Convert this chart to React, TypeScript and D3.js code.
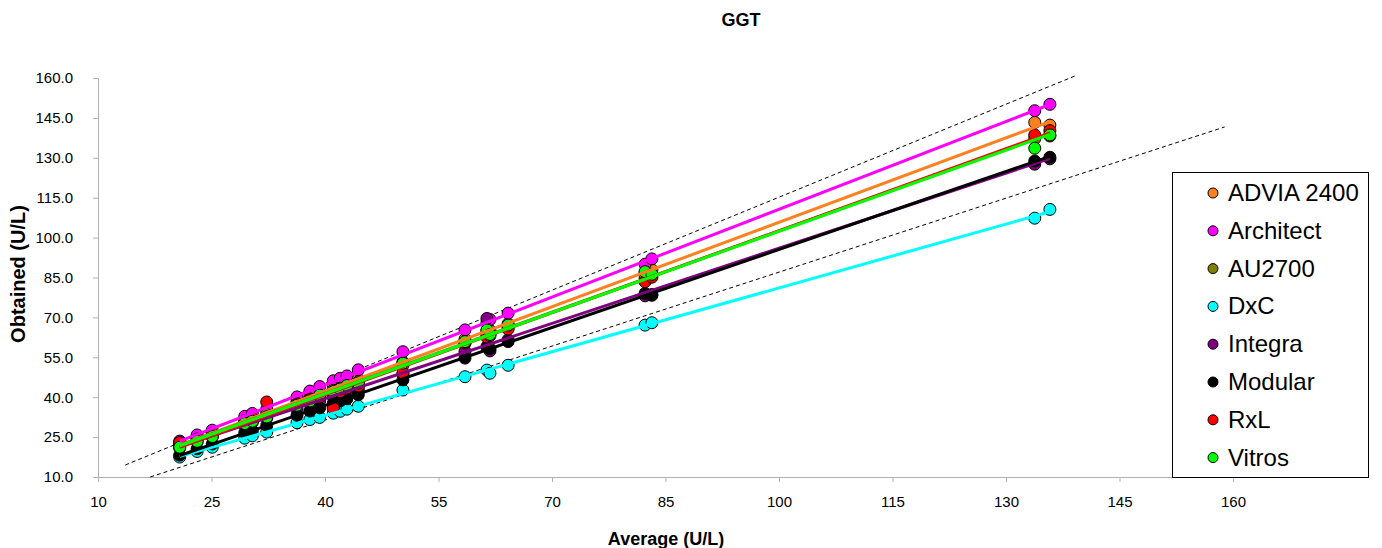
import { useEffect, useRef } from "react";
import * as d3 from "d3";

// Average of all analysers for each sample (U/L)
const averages = [20.8, 23.1, 25.1, 29.4, 30.4, 32.3, 36.3, 38.0, 39.3, 41.1, 42.0, 42.9, 44.4, 50.3, 58.5, 61.4, 61.8, 64.2, 82.3, 83.2, 133.8, 135.8];

// Obtained values per analyser, same order as averages
const advia = [22.3, 24.6, 26.7, 31.2, 32.3, 34.0, 38.4, 40.2, 41.7, 43.6, 44.4, 45.3, 46.8, 53.2, 61.8, 64.7, 65.1, 67.6, 86.8, 87.9, 143.3, 142.3];
const architect = [23.5, 25.8, 27.6, 32.8, 33.9, 35.5, 40.1, 42.3, 44.0, 46.2, 47.1, 48.0, 50.3, 57.1, 65.3, 68.0, 69.2, 71.6, 90.0, 92.0, 147.7, 150.1];
const au2700 = [22.0, 24.3, 26.3, 30.6, 31.7, 33.5, 37.6, 39.4, 40.7, 42.6, 43.4, 44.2, 45.8, 52.0, 60.3, 63.3, 63.9, 66.3, 84.8, 85.7, 137.2, 138.2];
const dxc = [17.5, 19.6, 21.2, 24.6, 25.5, 26.9, 30.4, 31.6, 32.4, 34.0, 34.7, 35.5, 36.6, 42.7, 47.7, 50.2, 49.0, 52.0, 67.1, 68.0, 107.3, 110.6];
const integra = [20.9, 23.3, 25.1, 29.2, 30.6, 32.1, 35.7, 37.6, 38.6, 40.1, 41.2, 42.1, 43.1, 48.6, 57.2, 69.6, 57.4, 61.6, 78.1, 78.6, 127.6, 129.6];
const modular = [18.2, 20.6, 22.4, 26.6, 27.4, 29.3, 33.2, 34.8, 36.0, 37.7, 38.6, 39.4, 40.9, 46.5, 54.7, 59.0, 58.2, 60.9, 79.0, 78.3, 128.8, 130.2];
const rxl = [23.0, 24.1, 25.6, 31.1, 32.0, 38.2, 37.5, 39.1, 40.1, 35.9, 42.1, 43.4, 44.2, 49.1, 60.4, 62.6, 63.1, 65.6, 83.4, 85.1, 138.6, 140.2];
const vitros = [21.2, 23.4, 25.2, 30.1, 31.0, 32.6, 37.0, 38.6, 40.8, 42.1, 43.1, 44.4, 45.3, 52.8, 60.9, 65.3, 63.6, 67.1, 87.2, 86.2, 133.6, 138.6];

const names = ["ADVIA 2400", "Architect", "AU2700", "DxC", "Integra", "Modular", "RxL", "Vitros"];
const values = [advia, architect, au2700, dxc, integra, modular, rxl, vitros];
const colors = ["#ff8020", "#ff00ff", "#808000", "#00ffff", "#800080", "#000000", "#ff0000", "#00ff00"];

// allowable-error limits (dashed), endpoints in data units
const upperLimit: [number, number][] = [[13.6, 14.5], [139.4, 161.1]];
const lowerLimit: [number, number][] = [[16.9, 10.0], [158.9, 141.6]];

const xTicks = [10, 25, 40, 55, 70, 85, 100, 115, 130, 145, 160];
const yTicks = [10, 25, 40, 55, 70, 85, 100, 115, 130, 145, 160];

const FONT = "'Liberation Sans', Arial, sans-serif";

// least squares fit for the trend lines
function fit(xs: number[], ys: number[]) {
    const mx = d3.mean(xs)!;
    const my = d3.mean(ys)!;
    let num = 0, den = 0;
    xs.forEach((x, i) => {
        num += (x - mx) * (ys[i] - my);
        den += (x - mx) * (x - mx);
    });
    const b = num / den;
    return { b, a: my - b * mx };
}

export default function App() {
    const svgRef = useRef<SVGSVGElement | null>(null);
    const width = 1382;
    const height = 548;

    useEffect(() => {
        const m = { left: 98, right: 149, top: 78, bottom: 71 };
        const x = d3.scaleLinear().domain([10, 160]).range([m.left, width - m.right]);
        const y = d3.scaleLinear().domain([10, 160]).range([height - m.bottom, m.top]);

        const svg = d3.select(svgRef.current!);
        svg.selectAll("*").remove();

        // title
        svg.append("text")
            .attr("x", 741).attr("y", 26)
            .attr("text-anchor", "middle")
            .style("font", `bold 18px ${FONT}`)
            .text("GGT");

        // axes
        const axisColor = "#b0b0b0";
        const yAxis = svg.append("g").attr("transform", `translate(${m.left},0)`)
            .call(d3.axisLeft(y).tickValues(yTicks).tickSize(5).tickPadding(20).tickFormat((d) => d3.format(".1f")(d as number)));
        const xAxis = svg.append("g").attr("transform", `translate(0,${height - m.bottom})`)
            .call(d3.axisBottom(x).tickValues(xTicks).tickSize(5).tickPadding(14).tickFormat((d) => String(d)));
        [xAxis, yAxis].forEach((a) => {
            a.select(".domain").attr("stroke", axisColor);
            a.selectAll(".tick line").attr("stroke", axisColor);
            a.selectAll(".tick text").style("font", `15px ${FONT}`).attr("fill", "#000");
        });

        svg.append("text")
            .attr("x", 666).attr("y", 545)
            .attr("text-anchor", "middle")
            .style("font", `bold 18px ${FONT}`)
            .text("Average (U/L)");
        svg.append("text")
            .attr("transform", `translate(25,274) rotate(-90)`)
            .attr("text-anchor", "middle")
            .style("font", `bold 20px ${FONT}`)
            .text("Obtained (U/L)");

        // dashed limits
        const line = d3.line<[number, number]>().x((d) => x(d[0])).y((d) => y(d[1]));
        [upperLimit, lowerLimit].forEach((l) => {
            svg.append("path")
                .attr("d", line(l)!)
                .attr("fill", "none")
                .attr("stroke", "#000")
                .attr("stroke-width", 1)
                .attr("stroke-dasharray", "4,3");
        });

        // points
        values.forEach((vals, s) => {
            svg.append("g").selectAll("circle")
                .data(vals)
                .enter()
                .append("circle")
                .attr("cx", (_, i) => x(averages[i]))
                .attr("cy", (d) => y(d))
                .attr("r", 6)
                .attr("fill", colors[s])
                .attr("stroke", "#000")
                .attr("stroke-width", 1);
        });

        // trend lines on top of markers
        const xmin = d3.min(averages)!;
        const xmax = d3.max(averages)!;
        values.forEach((vals, s) => {
            const { a, b } = fit(averages, vals);
            svg.append("path")
                .attr("d", line([[xmin, a + b * xmin], [xmax, a + b * xmax]])!)
                .attr("fill", "none")
                .attr("stroke", colors[s])
                .attr("stroke-width", 3);
        });

        // legend
        const lg = svg.append("g").attr("transform", "translate(1172,172)");
        lg.append("rect")
            .attr("x", 0.5).attr("y", 0.5)
            .attr("width", 196).attr("height", 305)
            .attr("fill", "#fff")
            .attr("stroke", "#000");
        names.forEach((n, i) => {
            const cy = 21 + i * 37.8;
            lg.append("circle")
                .attr("cx", 41).attr("cy", cy).attr("r", 5)
                .attr("fill", colors[i]).attr("stroke", "#000");
            lg.append("text")
                .attr("x", 56).attr("y", cy + 8)
                .style("font", `24px ${FONT}`)
                .text(n);
        });
    }, []);

    return (
        <svg
            ref={svgRef}
            width={width}
            height={height}
            style={{ position: "absolute", left: 0, top: 0, background: "#fff" }}
        />
    );
}
